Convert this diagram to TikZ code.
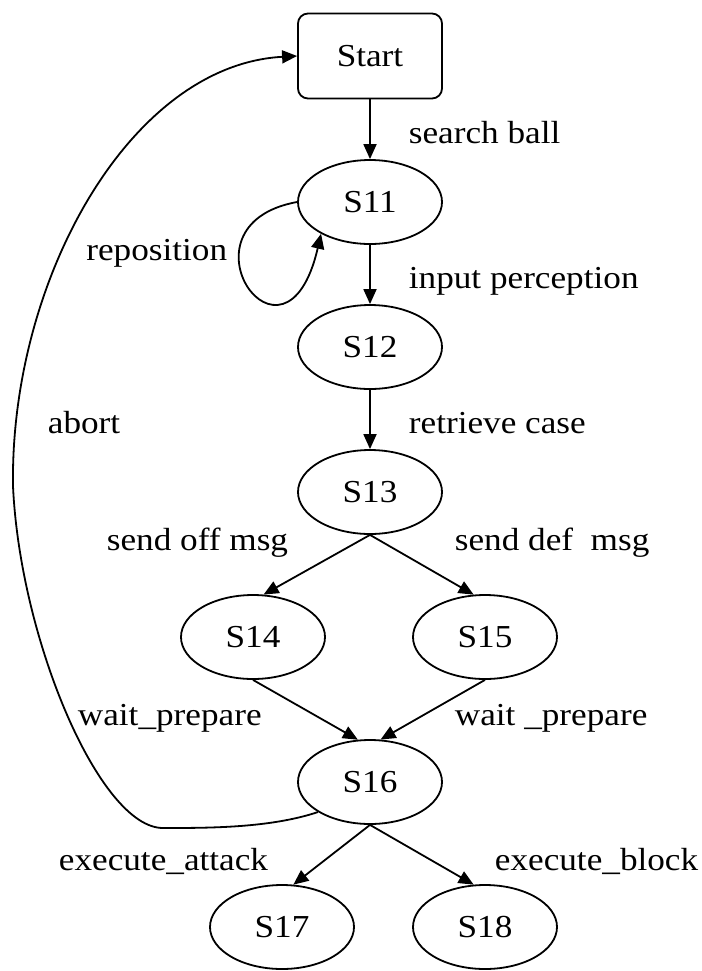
\documentclass[tikz,border=0pt]{standalone}
\usepackage{fontspec}
\setmainfont{Liberation Serif}[FakeStretch=1.1]
\usetikzlibrary{arrows.meta,shapes.geometric}

\tikzset{
  state/.style={ellipse, draw, minimum width=72pt, minimum height=42pt, inner sep=0pt},
  startbox/.style={rectangle, rounded corners=5pt, draw, minimum width=72pt, minimum height=42.5pt},
  edge/.style={-{Triangle[length=7.5pt,width=6.5pt]}},
  lab/.style={anchor=base west, inner sep=0pt},
}

\begin{document}
\begin{tikzpicture}[x=0.5pt, y=-0.5pt, line width=0.9pt, font=\fontsize{16}{19}\selectfont]
  \path[fill=white, use as bounding box] (0,0) rectangle (702,971);

  \node[startbox] (Start) at (370,56) {Start};
  \foreach \n/\x/\y in {S11/370/202, S12/370/347, S13/370/492, S14/253/637,
                        S15/485/637, S16/370/782, S17/282/927, S18/485/927}
    \node[state] (\n) at (\x,\y) {\n};

  \foreach \a/\b in {Start/S11, S11/S12, S12/S13}
    \draw[edge] (\a.south) -- (\b.north);
  \draw[edge] (S13.south) -- (S14.76);
  \draw[edge] (S13.south) -- (S15.105);
  \draw[edge] (S14.south) -- (S16.106);
  \draw[edge] (S15.south) -- (S16.76);
  \draw[edge] (S16.south) -- (S17.75);
  \draw[edge] (S16.south) -- (S18.105);

  % self loop on S11
  \draw[edge] (S11.west) .. controls (170,225) and (285,390) .. (S11.213);

  % back to Start
  \draw[edge] (S16.210) .. controls (270,828) and (210,828) .. (163,828)
    .. controls (100,828) and (20,640) .. (13,486)
    .. controls (10,280) and (130,65) .. (Start.west);

  \node[lab] (lab-search) at (408,143) {search ball};
  \node[lab] (lab-input) at (408,288) {input perception};
  \node[lab] (lab-retrieve) at (408,433) {retrieve case};
  \node[lab, anchor=base east] (lab-repos) at (228,260) {reposition};
  \node[lab] (lab-abort) at (47,433) {abort};
  \node[lab] (lab-off) at (106,550) {send off msg};
  \node[lab] (lab-def) at (454,550) {send def~~msg};
  \node[lab] (lab-waitl) at (77,725) {wait\_prepare};
  \node[lab] (lab-waitr) at (454,725) {wait~\_prepare};
  \node[lab] (lab-attack) at (58,870) {execute\_attack};
  \node[lab] (lab-block) at (494,870) {execute\_block};
\end{tikzpicture}
\end{document}
